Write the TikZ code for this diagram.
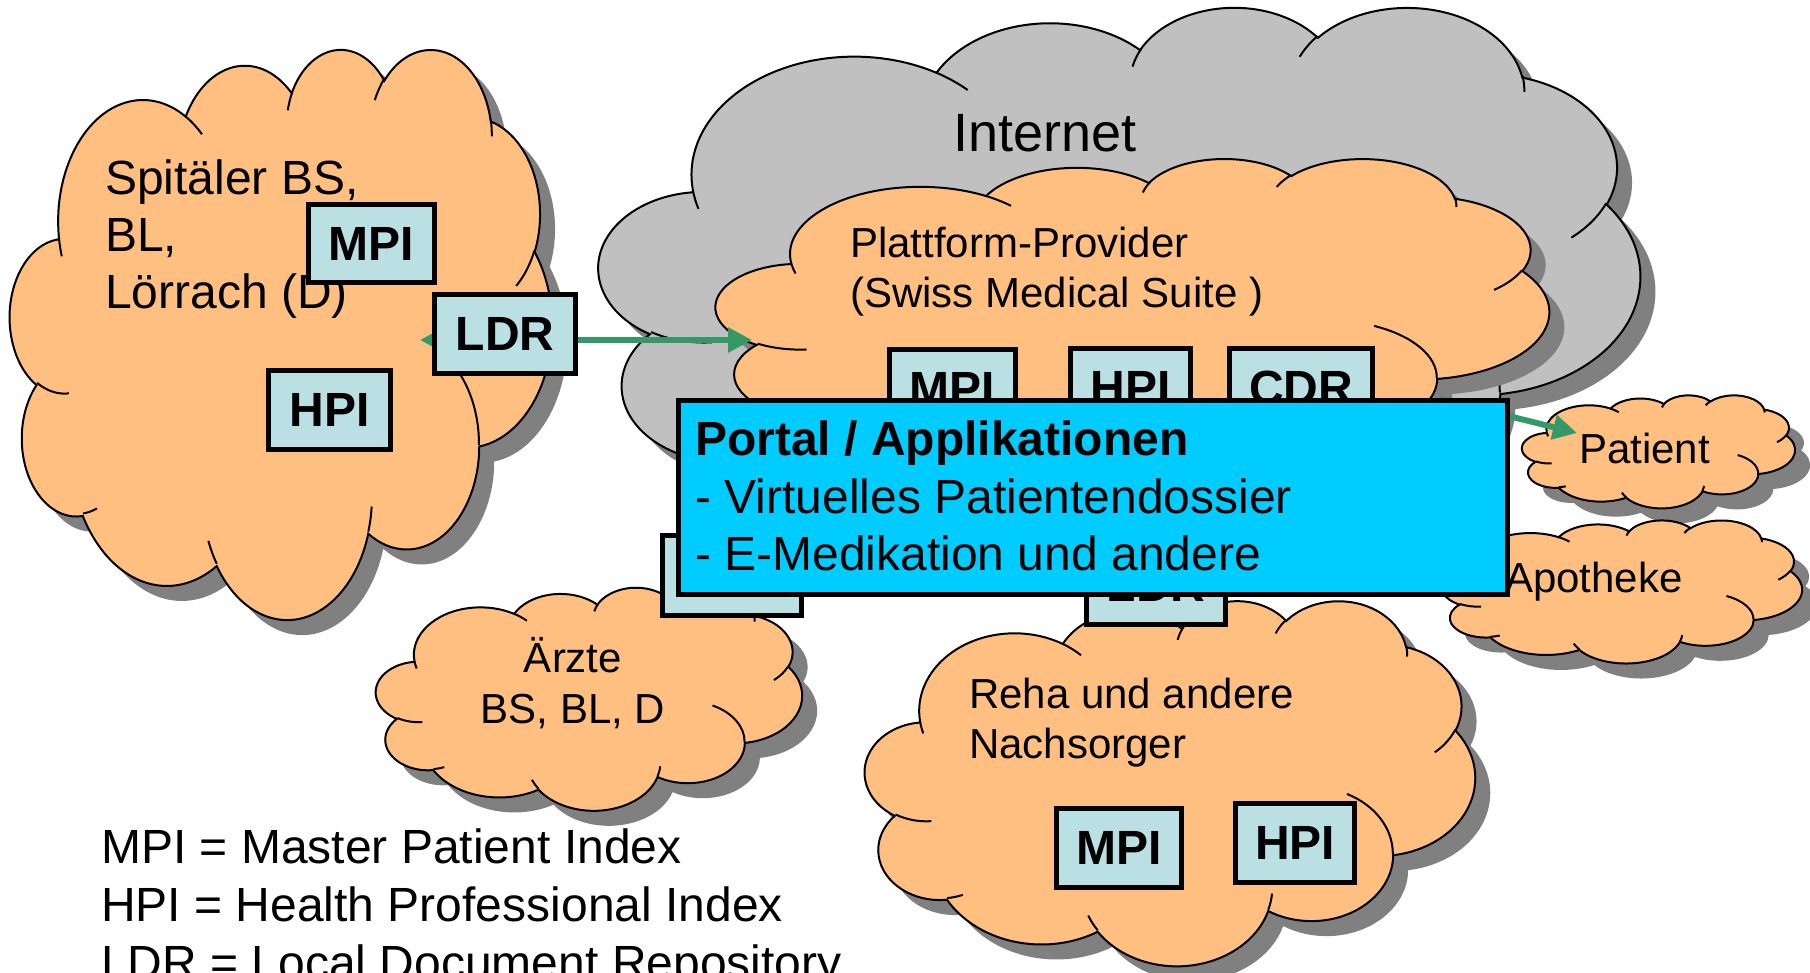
\documentclass[tikz,border=0pt]{standalone}
\usepackage{fontspec}
\setmainfont{Liberation Sans}
\usetikzlibrary{arrows.meta}
\definecolor{cloudorange}{RGB}{255,191,128}
\definecolor{cloudgray}{RGB}{192,192,192}
\definecolor{shadowgray}{RGB}{128,128,128}
\definecolor{boxblue}{RGB}{187,224,227}
\definecolor{portalcyan}{RGB}{0,204,255}
\definecolor{arrowgreen}{RGB}{51,153,102}

% OOXML-style arcTo: wR hR stAng swAng (visual angles, converted to parametric)
\def\oa#1#2#3#4{arc[x radius=#1pt,y radius=#2pt,start angle={(#3)+mod(atan2((#1)*sin(#3),(#2)*cos(#3))-(#3)+900,360)-180},end angle={(#3+#4)+mod(atan2((#1)*sin(#3+#4),(#2)*cos(#3+#4))-(#3+#4)+900,360)-180}]}

\def\cloudmain{(3.9pt,14.37pt)
 \oa{6.753}{9.19}{-190.487483}{123.780533}
 \oa{5.333}{7.267}{-144.102383}{89.945233}
 \oa{4.365}{5.945}{-145.807917}{99.723017}
 \oa{4.857}{6.595}{-130.986067}{117.241733}
 \oa{5.333}{7.273}{-78.708883}{109.026917}
 \oa{6.775}{9.22}{-46.26725}{130.269}
 \oa{5.785}{7.867}{0.625017}{114.033333}
 \oa{6.752}{9.215}{22.4516}{115.17255}
 \oa{7.72}{10.543}{66.242633}{75.711017}
 \oa{4.36}{5.918}{-274.942083}{146.735567}
 \oa{4.345}{5.945}{-246.8285}{152.51885}
 -- cycle}

\def\cloudinner{(4.693pt,26.177pt) \oa{4.345}{5.945}{86.742}{26.4295}
 (6.928pt,34.899pt) \oa{4.36}{5.918}{73.610467}{11.447467}
 (16.478pt,39.09pt) \oa{6.752}{9.215}{137.62415}{14.0811}
 (28.827pt,34.751pt) \oa{6.752}{9.215}{6.453267}{15.99835}
 (34.129pt,22.954pt) \oa{5.785}{7.867}{-70.29235}{70.917367}
 (41.798pt,15.354pt) \oa{5.333}{7.273}{30.318033}{27.7515}
 (38.324pt,5.426pt) \oa{4.857}{6.595}{-13.744333}{14.8589}
 (29.078pt,3.952pt) \oa{4.857}{6.595}{-149.18145}{18.195367}
 (22.141pt,4.72pt) \oa{4.365}{5.945}{-163.494267}{17.68635}
 (14pt,5.192pt) \oa{6.753}{9.19}{-66.70695}{12.31935}
 (4.127pt,15.789pt) \oa{6.753}{9.19}{157.65435}{11.858167}}

\newcommand\mycloud[5]{%
 \begin{scope}[shift={(#1+15,#2+15)},xscale=#3/43.2,yscale=-#4/43.2]
  \fill[shadowgray]\cloudmain;
 \end{scope}
 \begin{scope}[shift={(#1,#2)},xscale=#3/43.2,yscale=-#4/43.2]
  \filldraw[fill=#5,draw=black,line width=2pt]\cloudmain;
  \draw[line width=2pt]\cloudinner;
 \end{scope}}

\begin{document}
\begin{tikzpicture}[x=1pt,y=-1pt,
  box/.style={draw=black,line width=5pt,fill=boxblue,inner sep=0pt,
    font=\fontsize{48}{57}\selectfont\bfseries},
  txt/.style={inner sep=0pt,anchor=base west,font=\fontsize{48}{57}\selectfont},
  stxt/.style={inner sep=0pt,anchor=base west,font=\fontsize{42}{50}\selectfont},
  link/.style={draw=arrowgreen,line width=6pt,-{Triangle[length=24pt,width=24pt]}},
  dlink/.style={draw=arrowgreen,line width=6pt,{Triangle[length=24pt,width=24pt]}-{Triangle[length=24pt,width=24pt]}}
]
\useasboundingbox (0,0) rectangle (1810,973);

% Spitaeler cloud
\mycloud{10}{48}{542}{570}{cloudorange}
\node[txt] (sp1) at (105,195) {Spitäler BS,};
\node[txt] (sp2) at (105,252) {BL,};
\node[txt] (sp3) at (105,309) {Lörrach (D)};
\node[box,minimum width=126pt,minimum height=78pt] (mpiL) at (371.5,243.5) {MPI};
\node[box,minimum width=122pt,minimum height=79pt] (hpiL) at (329.5,410) {HPI};

% Aerzte cloud
\mycloud{376}{587}{426}{223}{cloudorange}
\node[stxt,anchor=base] (ar1) at (573,672) {Ärzte};
\node[stxt,anchor=base] (ar2) at (573,723) {BS, BL, D};
\node[box,minimum width=139pt,minimum height=80pt] (ldrA) at (732,575.5) {};

% Internet cloud
\mycloud{599}{6}{1041}{555}{cloudgray}
\node[txt,font=\fontsize{54}{64}\selectfont] (inet) at (953,152) {Internet};

% Plattform cloud
\mycloud{716}{158}{833}{316}{cloudorange}
\node[stxt] (pp1) at (850,258) {Plattform-Provider};
\node[stxt] (pp2) at (850,308) {(Swiss Medical Suite )};
\node[box,minimum width=126pt,minimum height=79pt] (mpiP) at (952.5,389) {MPI};
\node[box,minimum width=120pt,minimum height=79pt] (hpiP) at (1130.5,388) {HPI};
\node[box,minimum width=143pt,minimum height=79pt] (cdrP) at (1301,388) {CDR};

% LDR link
\coordinate (ldrEnd) at (420,340);
\coordinate (platIn) at (752,340);
\draw[dlink] (ldrEnd) -- (platIn);
\node[box,minimum width=141pt,minimum height=79pt] (ldrL) at (505,334) {LDR};

% Reha cloud
\mycloud{865}{600}{610}{365}{cloudorange}
\node[stxt] (re1) at (969,708) {Reha und andere};
\node[stxt] (re2) at (969,758) {Nachsorger};
\node[box,minimum width=139pt,minimum height=79pt] (ldrR) at (1156,585) {LDR};
\node[box,minimum width=125pt,minimum height=79pt] (mpiR) at (1119,848) {MPI};
\node[box,minimum width=119pt,minimum height=79pt] (hpiR) at (1295,843) {HPI};

% Patient and Apotheke
\mycloud{1522}{395}{273}{113}{cloudorange}
\node[stxt] (pat) at (1579,463) {Patient};
\mycloud{1442}{520}{360}{143}{cloudorange}
\node[stxt] (apo) at (1505,592) {Apotheke};
\coordinate (patSrc) at (1440,399);
\coordinate (patIn) at (1577,433);
\draw[link] (patSrc) -- (patIn);

% Portal
\node[draw=black,line width=5pt,fill=portalcyan,inner sep=0pt,
  minimum width=829pt,minimum height=194pt] (portal) at (1093,497.5) {};
\node[txt,font=\fontsize{48}{57}\selectfont\bfseries] (pt1) at (695,455) {Portal / Applikationen};
\node[txt] (pt2) at (695,513) {- Virtuelles Patientendossier};
\node[txt] (pt3) at (695,570) {- E-Medikation und andere};

% Legend
\node[txt] (lg1) at (101,863) {MPI = Master Patient Index};
\node[txt] (lg2) at (101,921) {HPI = Health Professional Index};
\node[txt] (lg3) at (101,979) {LDR = Local Document Repository};
\end{tikzpicture}
\end{document}
